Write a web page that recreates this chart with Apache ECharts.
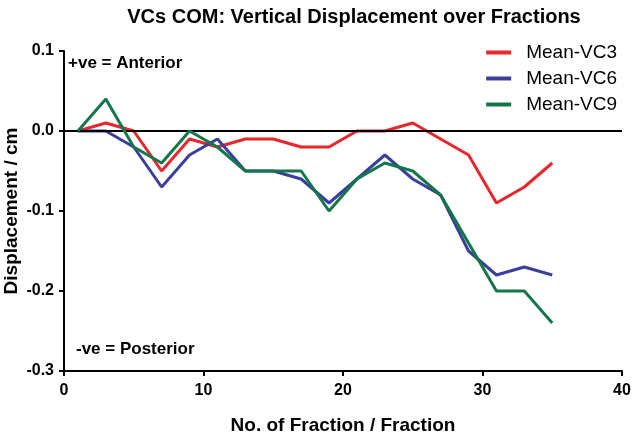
<!DOCTYPE html>
<html><head><meta charset="utf-8">
<script src="https://cdn.jsdelivr.net/npm/echarts@6/dist/echarts.min.js"></script>
<style>html,body{margin:0;padding:0;background:#fff}#c{width:633px;height:436px}</style>
</head><body><div id="c"></div>
<script>
const fractions = [1,3,5,7,9,11,13,15,17,19,21,23,25,27,29,31,33,35];
const vc3 = [0,0.01,0,-0.05,-0.01,-0.02,-0.01,-0.01,-0.02,-0.02,0,0,0.01,-0.01,-0.03,-0.09,-0.07,-0.04];
const vc6 = [0,0,-0.02,-0.07,-0.03,-0.01,-0.05,-0.05,-0.06,-0.09,-0.06,-0.03,-0.06,-0.08,-0.15,-0.18,-0.17,-0.18];
const vc9 = [0,0.04,-0.02,-0.04,0,-0.02,-0.05,-0.05,-0.05,-0.10,-0.06,-0.04,-0.05,-0.08,-0.14,-0.20,-0.20,-0.24];
const seriesNames = ['Mean-VC3','Mean-VC6','Mean-VC9'];
const colors = ['#e8262b','#3a3f9e','#13774a'];
const pair = (ys) => fractions.map((x,i)=>[x, ys[i]]);
const font = '"Liberation Sans", Arial, sans-serif';
const chart = echarts.init(document.getElementById('c'));
chart.setOption({
  animation:false,
  title:{text:'VCs COM: Vertical Displacement over Fractions', left:349, textAlign:'center', top:2,
    textStyle:{fontFamily:font, fontSize:20, fontWeight:'bold', color:'#000'}},
  legend:{orient:'vertical', right:11, top:38, itemWidth:25, itemHeight:4, itemGap:7, icon:'rect',
    textStyle:{fontFamily:font, fontSize:19, color:'#000', padding:[0,0,0,10]}, data:seriesNames},
  grid:{left:64, right:11, top:51, bottom:65, outerBoundsMode:'none'},
  xAxis:{type:'value', min:0, max:40, interval:10,
    name:'No. of Fraction / Fraction', nameLocation:'middle', nameGap:45,
    nameTextStyle:{fontFamily:font, fontSize:19, fontWeight:'bold', color:'#000'},
    axisLine:{onZero:false, lineStyle:{color:'#000', width:2}},
    axisTick:{length:5, lineStyle:{color:'#000', width:2}},
    axisLabel:{fontFamily:font, fontSize:16, fontWeight:'bold', color:'#000', margin:12},
    splitLine:{show:false}},
  yAxis:{type:'value', min:-0.3, max:0.1, interval:0.1,
    name:'Displacement / cm', nameLocation:'middle', nameGap:43, nameMoveOverlap:false,
    nameTextStyle:{fontFamily:font, fontSize:19, fontWeight:'bold', color:'#000'},
    axisLine:{show:true, onZero:false, lineStyle:{color:'#000', width:2}},
    axisTick:{show:true, length:5, lineStyle:{color:'#000', width:2}},
    axisLabel:{fontFamily:font, fontSize:16, fontWeight:'bold', color:'#000', margin:10,
      formatter:(v)=>(Math.round(v*10)/10).toFixed(1)},
    splitLine:{show:false}},
  graphic:[
    {type:'text', left:68, top:55, style:{text:'+ve = Anterior', font:'bold 17px "Liberation Sans", Arial, sans-serif', fill:'#000'}},
    {type:'text', left:76, top:341, style:{text:'-ve = Posterior', font:'bold 17px "Liberation Sans", Arial, sans-serif', fill:'#000'}}
  ],
  series:[vc3,vc6,vc9].map((d,i)=>({
    name:seriesNames[i], type:'line', data:pair(d), symbol:'none', z:3+i,
    lineStyle:{color:colors[i], width:3}, itemStyle:{color:colors[i]},
    markLine: i===0 ? {silent:true, symbol:'none', label:{show:false},
      lineStyle:{color:'#000', width:2, type:'solid'}, data:[{yAxis:0}]} : undefined
  }))
});
</script></body></html>
